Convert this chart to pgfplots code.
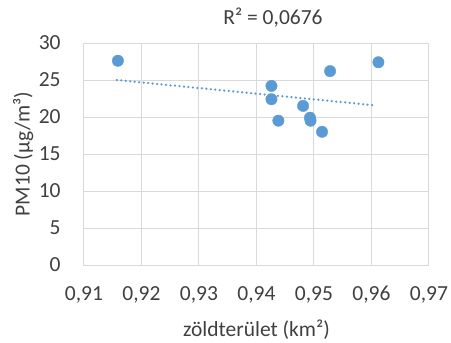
\documentclass[border=0pt]{standalone}
\usepackage{pgfplots}
\pgfplotsset{compat=1.18}
\usepackage{fontspec}
\setmainfont{Carlito}
\definecolor{exblue}{HTML}{5B9BD5}
\definecolor{gridg}{HTML}{D9D9D9}
\definecolor{txt}{HTML}{404040}
\begin{document}
\fontsize{21.5bp}{26bp}\selectfont
\begin{tikzpicture}
\begin{axis}[
  scale only axis,
  width=345bp, height=222bp,
  xmin=0.91, xmax=0.97, ymin=0, ymax=30,
  xtick={0.91,0.92,0.93,0.94,0.95,0.96,0.97},
  ytick={0,5,10,15,20,25,30},
  grid=major,
  major grid style={gridg, line width=1bp},
  axis line style={gridg, line width=1bp},
  tick style={draw=none},
  ticklabel style={font=\fontsize{21.5bp}{26bp}\selectfont, text=txt},
  /pgf/number format/assume math mode=true,
  /pgf/number format/use comma,
  /pgf/number format/fixed,
  /pgf/number format/precision=2,
  /pgf/number format/fixed zerofill,
  xticklabel style={yshift=-14bp},
  yticklabel style={/pgf/number format/precision=0,/pgf/number format/fixed zerofill=false, xshift=-16bp},
  scaled x ticks=false,
  xlabel={zöldterület (km²)},
  ylabel={PM10 (µg/m³)},
  label style={font=\fontsize{21.5bp}{26bp}\selectfont, text=txt},
  xlabel style={yshift=-2bp},
  ylabel style={yshift=-9bp},
]
\addplot[only marks, mark=*, mark size=5.7bp, mark options={fill=exblue, draw=exblue}] coordinates {
(0.9159,27.6)
(0.9612,27.4)
(0.9528,26.2)
(0.9426,24.2)
(0.9426,22.4)
(0.9438,19.5)
(0.9481,21.5)
(0.9493,19.9)
(0.9494,19.5)
(0.9514,18.0)
};
\addplot[exblue, line width=2.5bp, dash pattern=on 0pt off 4.5bp, line cap=round] coordinates {
(0.9157,25.0)
(0.9603,21.6)
};
\end{axis}
\node[text=txt, font=\fontsize{21.5bp}{26bp}\selectfont] at (189bp,247bp) {R² = 0,0676};
\pgfresetboundingbox
\path[use as bounding box] (-84bp,-78bp) rectangle (367bp,265bp);
\end{tikzpicture}
\end{document}
